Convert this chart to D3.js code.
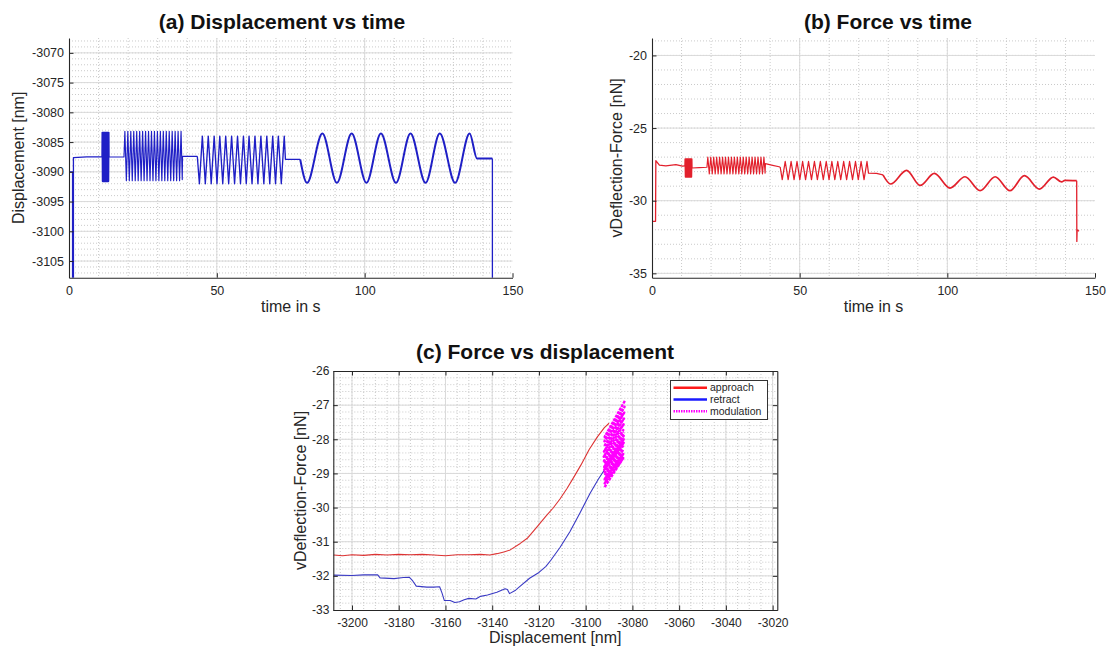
<!DOCTYPE html>
<html>
<head>
<meta charset="utf-8">
<script src="https://cdn.jsdelivr.net/npm/d3@7"></script>
<style>
  body { margin: 0; background: #fff; }
  svg { display: block; }
  text { font-family: "Liberation Sans", Arial, sans-serif; }
</style>
</head>
<body>
<svg id="fig" width="1114" height="648"></svg>
<script>
// ---------- tick labels ----------
const timeTicks = [0, 50, 100, 150];
const dispTicks = [-3105, -3100, -3095, -3090, -3085, -3080, -3075, -3070];
const forceTicks = [-35, -30, -25, -20];
const fdXTicks = [-3200, -3180, -3160, -3140, -3120, -3100, -3080, -3060, -3040, -3020];
const fdYTicks = [-33, -32, -31, -30, -29, -28, -27, -26];

// ---------- (a) displacement [nm] vs time [s] ----------
const dispLead = [[0,-3090],[1.2,-3090],[1.2,-3115],[1.5,-3115],[1.5,-3087.6],[6,-3087.5],[11.2,-3087.5]];
const dispBurst = [[11.2,-3087.5],[11.25,-3083.4],[11.35,-3091.6],[11.45,-3083.4],[11.55,-3091.6],[11.65,-3083.4],
  [11.75,-3091.6],[11.85,-3083.4],[11.95,-3091.6],[12.05,-3083.4],[12.15,-3091.6],[12.25,-3083.4],[12.35,-3091.6],
  [12.45,-3083.4],[12.55,-3091.6],[12.65,-3083.4],[12.75,-3091.6],[12.85,-3083.4],[12.95,-3091.6],[13.05,-3083.4],
  [13.15,-3091.6],[13.25,-3083.4],[13.35,-3091.6],[13.45,-3083.4],[13.5,-3087.5]];
const dispFast = [[13.5,-3087.5],[18.6,-3087.5],[18.9,-3083.2],[19.4,-3091.5],[19.9,-3083.2],[20.4,-3091.5],[20.9,-3083.2],
  [21.4,-3091.5],[21.9,-3083.2],[22.4,-3091.5],[22.9,-3083.2],[23.4,-3091.5],[23.9,-3083.2],[24.4,-3091.5],[24.9,-3083.2],
  [25.4,-3091.5],[25.9,-3083.2],[26.4,-3091.5],[26.9,-3083.2],[27.4,-3091.5],[27.9,-3083.2],[28.4,-3091.5],[28.9,-3083.2],
  [29.4,-3091.5],[29.9,-3083.2],[30.4,-3091.5],[30.9,-3083.2],[31.4,-3091.5],[31.9,-3083.2],[32.4,-3091.5],[32.9,-3083.2],
  [33.4,-3091.5],[33.9,-3083.2],[34.4,-3091.5],[34.9,-3083.2],[35.4,-3091.5],[35.9,-3083.2],[36.4,-3091.5],[36.9,-3083.2],
  [37.4,-3091.5],[37.9,-3083.2],[38.3,-3091.3],[38.4,-3087.4],[43.4,-3087.4]];
const dispMid = [[43.4,-3087.4],[44.1,-3092.0],[45.1,-3084.0],[46.1,-3092.0],[47.1,-3084.0],[48.1,-3092.0],[49.1,-3084.0],
  [50.05,-3092.0],[51.0,-3084.0],[52.0,-3092.0],[53.0,-3084.0],[54.0,-3092.0],[55.0,-3084.0],[56.0,-3092.0],[57.0,-3084.0],
  [58.0,-3092.0],[59.0,-3084.0],[59.95,-3092.0],[60.9,-3084.0],[61.9,-3092.0],[62.9,-3084.0],[63.9,-3092.0],[64.9,-3084.0],
  [65.9,-3092.0],[66.9,-3084.0],[67.9,-3092.0],[68.9,-3084.0],[69.85,-3092.0],[70.8,-3084.0],[71.8,-3092.0],[72.8,-3084.0],
  [73.2,-3087.9],[78.2,-3087.9]];
const dispSlow = [[78.2,-3087.9],[80.5,-3091.85],[85.7,-3083.55],[90.6,-3091.85],[95.6,-3083.55],[100.6,-3091.85],
  [105.5,-3083.55],[110.6,-3091.85],[115.5,-3083.55],[120.6,-3091.85],[125.4,-3083.55],[130.6,-3091.85],[135.5,-3083.55],
  [138.0,-3087.75],[143.2,-3087.75]];
const dispTail = [[143.2,-3087.75],[143.2,-3115]];

// ---------- (b) vDeflection-Force [nN] vs time [s] ----------
const forceLead = [[0,-31.42],[1.2,-31.42],[1.3,-27.25],[1.7,-27.35],[2.5,-27.55],[4.7,-27.6],[8.1,-27.52],[10.3,-27.62],[11.2,-27.6]];
const forceBurst = [[11.2,-27.6],[11.25,-27.13],[11.35,-28.37],[11.45,-27.13],[11.55,-28.37],[11.65,-27.13],
  [11.75,-28.37],[11.85,-27.13],[11.95,-28.37],[12.05,-27.13],[12.15,-28.37],[12.25,-27.13],[12.35,-28.37],
  [12.45,-27.13],[12.55,-28.37],[12.65,-27.13],[12.75,-28.37],[12.85,-27.13],[12.95,-28.37],[13.05,-27.13],
  [13.15,-28.37],[13.25,-27.13],[13.35,-28.37],[13.45,-27.13],[13.5,-27.75]];
const forceFast = [[13.5,-27.75],[16,-27.72],[18.6,-27.7],[18.9,-27.0],[19.4,-28.15],[19.9,-27.0],[20.4,-28.15],[20.9,-27.0],
  [21.4,-28.15],[21.9,-27.0],[22.4,-28.15],[22.9,-27.0],[23.4,-28.15],[23.9,-27.0],[24.4,-28.15],[24.9,-27.0],
  [25.4,-28.15],[25.9,-27.0],[26.4,-28.15],[26.9,-27.0],[27.4,-28.15],[27.9,-27.0],[28.4,-28.15],[28.9,-27.0],
  [29.4,-28.15],[29.9,-27.0],[30.4,-28.15],[30.9,-27.0],[31.4,-28.15],[31.9,-27.0],[32.4,-28.15],[32.9,-27.0],
  [33.4,-28.15],[33.9,-27.0],[34.4,-28.15],[34.9,-27.0],[35.4,-28.15],[35.9,-27.0],[36.4,-28.15],[36.9,-27.0],
  [37.4,-28.15],[37.9,-27.0],[38.3,-28.1],[38.4,-27.45],[40.5,-27.55],[43.4,-27.68]];
const forceMid = [[43.4,-27.68],[44.1,-28.55],[45.1,-27.3],[46.1,-28.55],[47.1,-27.3],[48.1,-28.55],[49.1,-27.3],
  [50.05,-28.55],[51.0,-27.3],[52.0,-28.55],[53.0,-27.3],[54.0,-28.55],[55.0,-27.3],[56.0,-28.55],[57.0,-27.3],
  [58.0,-28.55],[59.0,-27.3],[59.95,-28.55],[60.9,-27.3],[61.9,-28.55],[62.9,-27.3],[63.9,-28.55],[64.9,-27.3],
  [65.9,-28.55],[66.9,-27.3],[67.9,-28.55],[68.9,-27.3],[69.85,-28.55],[70.8,-27.3],[71.8,-28.55],[72.8,-27.3],
  [73.3,-28.1],[76,-28.12],[78.2,-28.22]];
const forceSlow = [[78.2,-28.22],[80.8,-28.85],[86.2,-27.91],[90.8,-28.95],[95.6,-28.12],[100.9,-29.13],[106.0,-28.35],
  [111.1,-29.31],[116.2,-28.35],[121.2,-29.31],[126.1,-28.28],[131.2,-29.2],[135.9,-28.37],[138.7,-28.71],
  [139.8,-28.6],[143.8,-28.62]];
const forceTail = [[143.8,-28.62],[143.85,-32.8],[143.95,-32.0],[144.6,-32.1]];

// ---------- (c) force [nN] vs displacement [nm] ----------
const approachCurve = [[-3207.8,-31.39],[-3204,-31.41],[-3200,-31.38],[-3195,-31.4],[-3190,-31.37],[-3185,-31.39],
  [-3180,-31.37],[-3175,-31.38],[-3170,-31.37],[-3165,-31.39],[-3160,-31.41],[-3155,-31.38],[-3150,-31.38],
  [-3145,-31.37],[-3141,-31.39],[-3138,-31.35],[-3135,-31.3],[-3132.3,-31.24],[-3128,-31.05],[-3125,-30.9],
  [-3121,-30.58],[-3117,-30.25],[-3114,-30.02],[-3111,-29.75],[-3108,-29.44],[-3105,-29.1],[-3102,-28.75],
  [-3098.5,-28.3],[-3095,-27.93],[-3092,-27.66],[-3090,-27.53]];
const retractCurve = [[-3207.8,-31.98],[-3200,-31.99],[-3195,-31.97],[-3189,-31.97],[-3188,-32.06],[-3182,-32.08],
  [-3178,-32.05],[-3175.5,-32.04],[-3174,-32.15],[-3172.5,-32.3],[-3168,-32.33],[-3165,-32.33],[-3162.5,-32.32],
  [-3161.5,-32.5],[-3160.5,-32.72],[-3158,-32.72],[-3156,-32.78],[-3154,-32.76],[-3152,-32.7],[-3150,-32.66],
  [-3147,-32.68],[-3145,-32.6],[-3142,-32.56],[-3138,-32.48],[-3134.5,-32.38],[-3133.5,-32.4],[-3132.6,-32.52],
  [-3130,-32.42],[-3128,-32.3],[-3124,-32.07],[-3120,-31.9],[-3117,-31.72],[-3115,-31.55],[-3111,-31.17],
  [-3106.7,-30.7],[-3102.4,-30.15],[-3098.1,-29.58],[-3094.6,-29.17],[-3092.5,-28.95],[-3091,-28.8]];
// modulation cycles, drawn as back-and-forth sweeps between the turning points
const modUpper = [[-3092.4,-28.66],[-3083.9,-27.73],[-3092.3,-28.51],[-3083.75,-27.56],[-3092.2,-28.36],[-3083.6,-27.39],
  [-3092.1,-28.21],[-3083.5,-27.22],[-3092.0,-28.06],[-3083.35,-27.05],[-3091.9,-27.93],[-3083.2,-26.87]];
const modMiddle = [[-3092.1,-29.0],[-3083.7,-28.1],[-3092.1,-28.9],[-3083.7,-28.0],[-3092.1,-28.81],[-3083.7,-27.9],
  [-3092.1,-28.72],[-3083.7,-27.8]];
const modLower = [[-3091.9,-29.4],[-3083.9,-28.55],[-3091.9,-29.29],[-3083.9,-28.43],[-3091.9,-29.17],[-3083.9,-28.3],
  [-3091.9,-29.06],[-3083.9,-28.18]];

const legendItems = ["approach", "retract", "modulation"];

// ---------- drawing ----------
const svg = d3.select("#fig");
const AXIS = "#262626";

function rangeStep(a, b, s) {
  const out = [];
  for (let v = a; v <= b + 1e-9; v += s) out.push(+v.toFixed(6));
  return out;
}

function drawPanel(p) {
  const x = d3.scaleLinear().domain(p.xDomain).range([p.left, p.right]);
  const y = d3.scaleLinear().domain(p.yDomain).range([p.bottom, p.top]);
  const g = svg.append("g");

  g.append("clipPath").attr("id", "clip-" + p.id)
    .append("rect").attr("x", p.left).attr("y", p.top)
    .attr("width", p.right - p.left).attr("height", p.bottom - p.top);

  // minor grid (dotted)
  const gm = g.append("g").attr("stroke", "#c4c4c4").attr("stroke-width", 0.9)
    .attr("stroke-dasharray", "1,2");
  rangeStep(p.xMinor[0], p.xMinor[1], p.xMinor[2]).forEach(v => {
    if (v <= p.xDomain[0] || v >= p.xDomain[1]) return;
    gm.append("line").attr("x1", x(v)).attr("x2", x(v)).attr("y1", p.top).attr("y2", p.bottom);
  });
  rangeStep(p.yMinor[0], p.yMinor[1], p.yMinor[2]).forEach(v => {
    if (v <= p.yDomain[0] || v >= p.yDomain[1]) return;
    gm.append("line").attr("y1", y(v)).attr("y2", y(v)).attr("x1", p.left).attr("x2", p.right);
  });
  // major grid (solid)
  const gM = g.append("g").attr("stroke", "#dadada").attr("stroke-width", 1);
  p.xTicks.forEach(v => {
    if (v <= p.xDomain[0] || v >= p.xDomain[1]) return;
    gM.append("line").attr("x1", x(v)).attr("x2", x(v)).attr("y1", p.top).attr("y2", p.bottom);
  });
  p.yTicks.forEach(v => {
    if (v <= p.yDomain[0] || v >= p.yDomain[1]) return;
    gM.append("line").attr("y1", y(v)).attr("y2", y(v)).attr("x1", p.left).attr("x2", p.right);
  });

  // data
  const gd = g.append("g").attr("clip-path", "url(#clip-" + p.id + ")");
  p.series.forEach(s => {
    const line = d3.line().x(d => x(d[0])).y(d => y(d[1])).curve(s.curve || d3.curveLinear);
    gd.append("path").attr("d", line(s.pts)).attr("fill", "none")
      .attr("stroke", s.color).attr("stroke-width", s.width)
      .attr("stroke-linejoin", "round")
      .attr("stroke-dasharray", s.dash || null);
  });

  // axes (ticks point inward)
  const fmt = d => String(d);
  const ax = g.append("g").attr("transform", `translate(0,${p.bottom})`)
    .call(d3.axisBottom(x).tickValues(p.xTicks).tickFormat(fmt).tickSize(-4.5).tickSizeOuter(0).tickPadding(p.xPad));
  const ay = g.append("g").attr("transform", `translate(${p.left},0)`)
    .call(d3.axisLeft(y).tickValues(p.yTicks).tickFormat(fmt).tickSize(-4.5).tickSizeOuter(0).tickPadding(p.yPad));
  const axes = [ax, ay];
  if (p.box) {
    axes.push(g.append("g").attr("transform", `translate(0,${p.top})`)
      .call(d3.axisTop(x).tickValues(p.xTicks).tickFormat("").tickSize(-4.5).tickSizeOuter(0)));
    axes.push(g.append("g").attr("transform", `translate(${p.right},0)`)
      .call(d3.axisRight(y).tickValues(p.yTicks).tickFormat("").tickSize(-4.5).tickSizeOuter(0)));
  }
  axes.forEach(a => {
    a.attr("font-size", p.tickFont).attr("font-family", '"Liberation Sans", Arial, sans-serif');
    a.select(".domain").attr("stroke", AXIS).attr("stroke-width", 1.1);
    a.selectAll(".tick line").attr("stroke", AXIS).attr("stroke-width", 1);
    a.selectAll(".tick text").attr("fill", AXIS);
  });

  // title and axis labels
  svg.append("text").attr("x", p.titleX).attr("y", p.titleY).attr("text-anchor", "middle")
    .attr("font-family", 'Lato, "Open Sans", sans-serif').attr("font-weight", 700)
    .attr("font-size", 21).attr("fill", "#111").text(p.title);
  svg.append("text").attr("x", (p.left + p.right) / 2).attr("y", p.xLabelY).attr("text-anchor", "middle")
    .attr("font-size", 16).attr("fill", AXIS).text(p.xLabel);
  svg.append("text").attr("transform", `translate(${p.yLabelX},${(p.top + p.bottom) / 2}) rotate(-90)`)
    .attr("text-anchor", "middle").attr("font-size", 16).attr("fill", AXIS).text(p.yLabel);

  return { x, y, g };
}

const BLUE = "#1f1fc6", RED = "#e2202c";

drawPanel({
  id: "a", left: 69, right: 512.5, top: 38, bottom: 277.7,
  xDomain: [0, 150], yDomain: [-3107.8, -3067.5],
  xTicks: timeTicks, yTicks: dispTicks,
  xMinor: [0, 150, 10], yMinor: [-3107, -3068, 1],
  xPad: 8.5, yPad: 5, tickFont: 12.5, box: false,
  title: "(a) Displacement vs time", titleX: 282, titleY: 29,
  xLabel: "time in s", xLabelY: 312, yLabel: "Displacement [nm]", yLabelX: 24,
  series: [
    { pts: dispLead, color: BLUE, width: 1.3 },
    { pts: dispBurst, color: BLUE, width: 1.6 },
    { pts: dispFast, color: BLUE, width: 1.15 },
    { pts: dispMid, color: BLUE, width: 1.35 },
    { pts: dispSlow, color: BLUE, width: 2.0, curve: d3.curveMonotoneX },
    { pts: dispTail, color: BLUE, width: 1.3 }
  ]
});

drawPanel({
  id: "b", left: 652, right: 1095, top: 38, bottom: 277.7,
  xDomain: [0, 150], yDomain: [-35.3, -18.8],
  xTicks: timeTicks, yTicks: forceTicks,
  xMinor: [0, 150, 10], yMinor: [-35, -19, 1],
  xPad: 8.5, yPad: 5, tickFont: 12.5, box: false,
  title: "(b) Force vs time", titleX: 888, titleY: 29,
  xLabel: "time in s", xLabelY: 312, yLabel: "vDeflection-Force [nN]", yLabelX: 622,
  series: [
    { pts: forceLead, color: RED, width: 1.3 },
    { pts: forceBurst, color: RED, width: 1.6 },
    { pts: forceFast, color: RED, width: 1.15 },
    { pts: forceMid, color: RED, width: 1.25 },
    { pts: forceSlow, color: RED, width: 1.7, curve: d3.curveMonotoneX },
    { pts: forceTail, color: RED, width: 1.3 }
  ]
});

drawPanel({
  id: "c", left: 333.3, right: 777.3, top: 371, bottom: 610,
  xDomain: [-3208, -3018], yDomain: [-33, -26],
  xTicks: fdXTicks, yTicks: fdYTicks,
  xMinor: [-3205, -3020, 5], yMinor: [-33, -26, 0.2],
  xPad: 8.2, yPad: 4, tickFont: 12, box: true,
  title: "(c) Force vs displacement", titleX: 545, titleY: 359,
  xLabel: "Displacement [nm]", xLabelY: 643, yLabel: "vDeflection-Force [nN]", yLabelX: 306,
  series: [
    { pts: approachCurve, color: "#dd3333", width: 1.1 },
    { pts: retractCurve, color: "#3a3ac4", width: 1.1 },
    { pts: modUpper, color: "#ff00ff", width: 2.4, dash: "3,1" },
    { pts: modMiddle, color: "#ff00ff", width: 2.4, dash: "3,1" },
    { pts: modLower, color: "#ff00ff", width: 2.4, dash: "3,1" }
  ]
});

// legend
const legendStyles = [
  { color: "#ff1a1a", dash: null },
  { color: "#1a1aff", dash: null },
  { color: "#ff00ff", dash: "1.5,1" }
];
const lg = svg.append("g").attr("transform", "translate(670.5,380.5)");
lg.append("rect").attr("width", 97).attr("height", 39).attr("fill", "#fff")
  .attr("stroke", "#333").attr("stroke-width", 1);
legendItems.forEach((name, i) => {
  const yy = 7.2 + i * 11.8;
  lg.append("line").attr("x1", 3).attr("x2", 36.5).attr("y1", yy).attr("y2", yy)
    .attr("stroke", legendStyles[i].color).attr("stroke-width", 2.6)
    .attr("stroke-dasharray", legendStyles[i].dash);
  lg.append("text").attr("x", 39.5).attr("y", yy + 3.7).attr("font-size", 10.5)
    .attr("fill", AXIS).text(name);
});
</script>
</body>
</html>
